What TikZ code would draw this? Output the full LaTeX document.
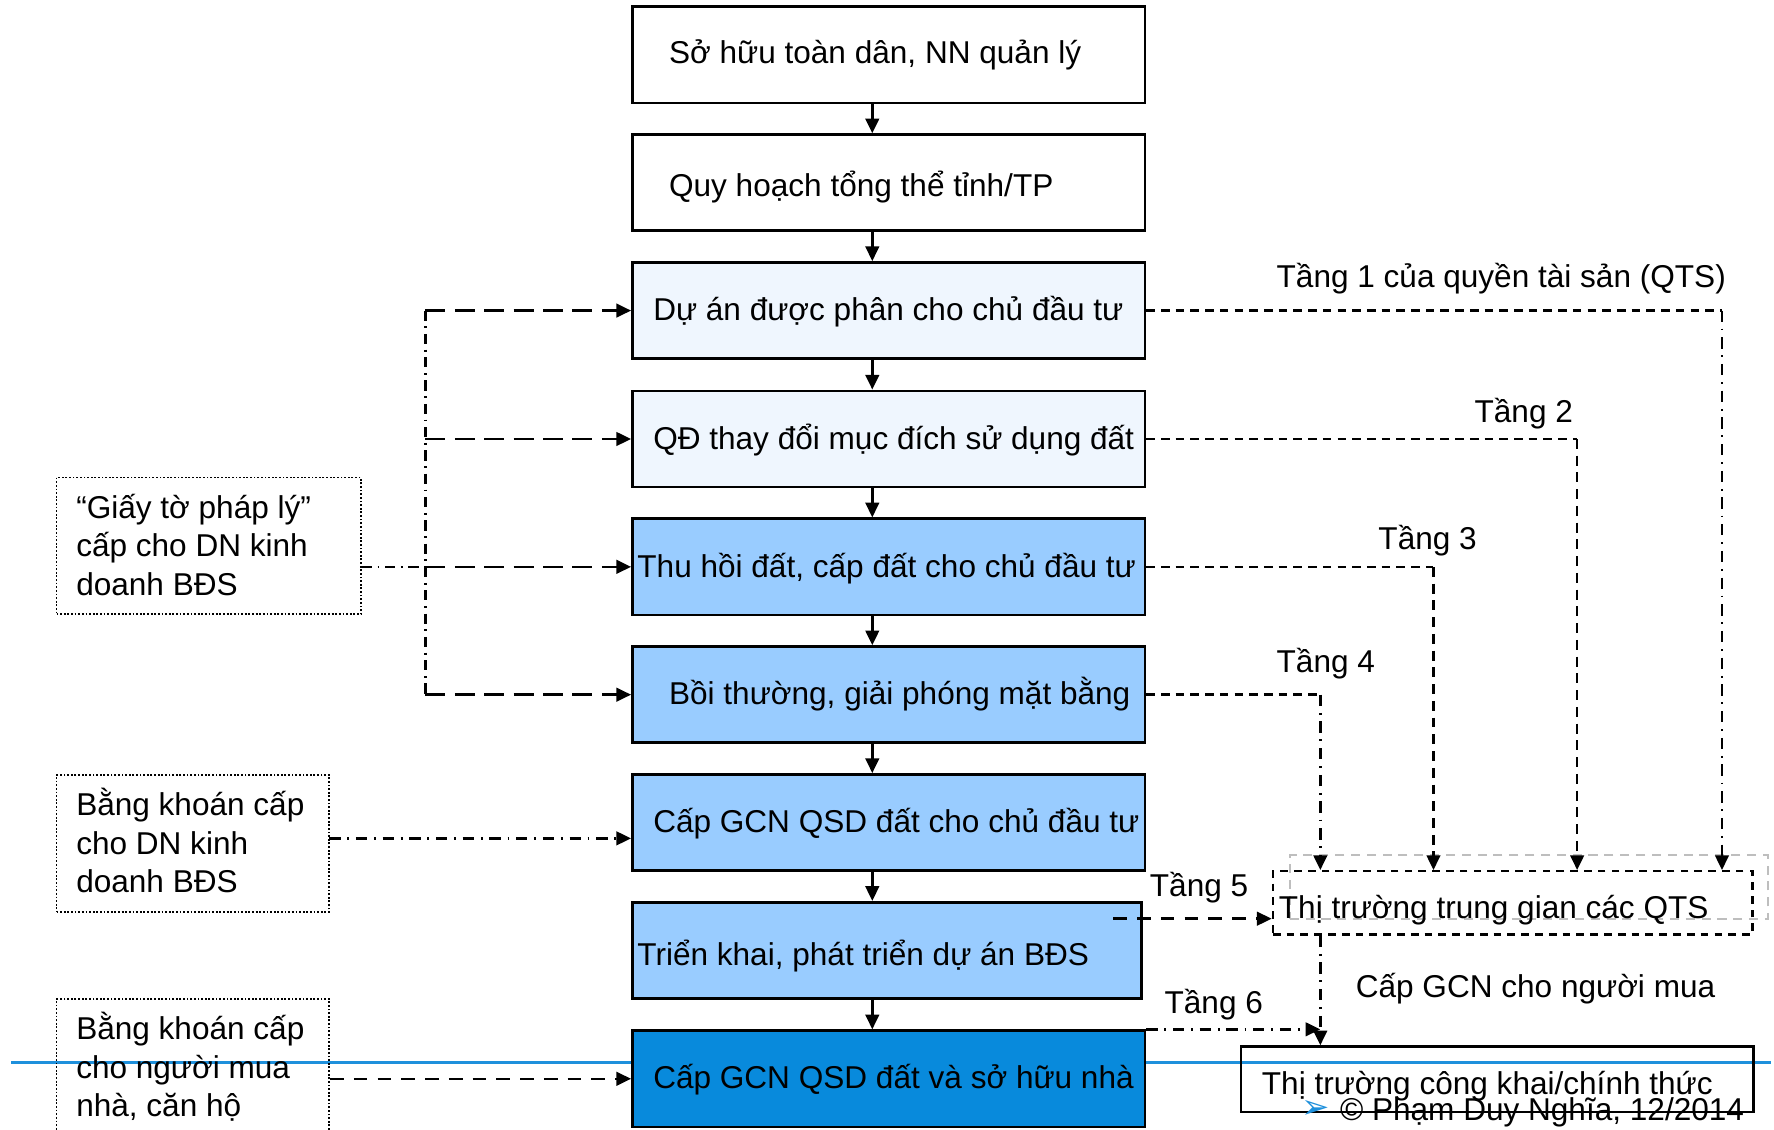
\documentclass[tikz,border=0pt]{standalone}
\usepackage{fontspec}
\setmainfont{Liberation Sans}
\newfontfamily\symfont{DejaVu Sans}
\usetikzlibrary{arrows.meta}
\definecolor{palebox}{RGB}{239,246,254}
\definecolor{midbox}{RGB}{153,204,255}
\definecolor{darkbox}{RGB}{8,138,220}
\definecolor{bluecol}{RGB}{30,144,220}
\definecolor{grayline}{RGB}{190,190,190}
\begin{document}
\begin{tikzpicture}[x=0.5pt,y=-0.5pt,
  every node/.style={font=\fontsize{13.95}{17}\selectfont, inner sep=0pt},
  box/.style={draw, line width=1.2pt, minimum width=226.5pt, minimum height=42.5pt, inner sep=0pt},
  dotbox/.style={draw, line width=0.8pt, dash pattern=on 0.8pt off 0.8pt},
  txt/.style={anchor=base west},
  tip/.style={-{Triangle[length=6.5pt,width=6pt]}},
  conn/.style={line width=1.1pt},
  longdash/.style={conn, dash pattern=on 8.8pt off 4.2pt},
  dashdotl/.style={conn, dash pattern=on 4.5pt off 2.5pt on 0.8pt off 2.5pt},
  dashdotr/.style={conn, dash pattern=on 5pt off 3pt on 0.8pt off 3pt},
  shortdash/.style={conn, dash pattern=on 3.8pt off 2.7pt},
  vdash/.style={conn, dash pattern=on 4.4pt off 3pt},
  meddash/.style={conn, dash pattern=on 6pt off 4.5pt}
]
\clip (0,0) rectangle (1568,998);
\fill[white] (0,0) rectangle (1568,998);

% blue rule
\draw[bluecol, line width=1.2pt] (10,939) -- (1565,939);

% main column
\node[box] (b1) at (785.5,48.5) {};
\node[box] (b2) at (785.5,161.5) {};
\node[box, fill=palebox] (b3) at (785.5,274.5) {};
\node[box, fill=palebox] (b4) at (785.5,388) {};
\node[box, fill=midbox] (b5) at (785.5,501) {};
\node[box, fill=midbox] (b6) at (785.5,614) {};
\node[box, fill=midbox] (b7) at (785.5,727) {};
\node[box, fill=midbox, minimum width=225pt] (b8) at (784,840) {};
\node[box, fill=darkbox] (b9) at (785.5,953.5) {};

\node[txt] (t1) at (591,56) {Sở hữu toàn dân, NN quản lý};
\node[txt] (t2) at (591,174) {Quy hoạch tổng thể tỉnh/TP};
\node[txt] (t3) at (577,283.5) {Dự án được phân cho chủ đầu tư};
\node[txt] (t4) at (577,397) {QĐ thay đổi mục đích sử dụng đất};
\node[txt] (t5) at (563,510) {Thu hồi đất, cấp đất cho chủ đầu tư};
\node[txt] (t6) at (591,623) {Bồi thường, giải phóng mặt bằng};
\node[txt] (t7) at (577,736) {Cấp GCN QSD đất cho chủ đầu tư};
\node[txt] (t8) at (563,853) {Triển khai, phát triển dự án BĐS};
\node[txt] (t9) at (577,962) {Cấp GCN QSD đất và sở hữu nhà};

\coordinate (ax) at (771,0);
\foreach \a/\b in {b1/b2,b2/b3,b3/b4,b4/b5,b5/b6,b6/b7,b7/b8,b8/b9}
  \draw[conn,tip] (\a.south -| ax) -- (\b.north -| ax);

% left side
\node[dotbox, minimum width=134.5pt, minimum height=60.5pt] (g1) at (184.5,482.5) {};
\node[txt] (g1a) at (67,458) {“Giấy tờ pháp lý”};
\node[txt] (g1b) at (67,492) {cấp cho DN kinh};
\node[txt] (g1c) at (67,526) {doanh BĐS};

\node[dotbox, minimum width=120.5pt, minimum height=60.5pt] (k1) at (170.5,745.5) {};
\node[txt] (k1a) at (67,721) {Bằng khoán cấp};
\node[txt] (k1b) at (67,755) {cho DN kinh};
\node[txt] (k1c) at (67,789) {doanh BĐS};

\node[dotbox, minimum width=120.5pt, minimum height=60.5pt] (k2) at (170.5,943.5) {};
\node[txt] (k2a) at (67,919) {Bằng khoán cấp};
\node[txt] (k2b) at (67,953) {cho người mua};
\node[txt] (k2c) at (67,987) {nhà, căn hộ};

\coordinate (lv) at (376,0);
\draw[dashdotl] (lv |- b3.west) -- (lv |- b6.west);
\foreach \b in {b3,b4,b5,b6}
  \draw[longdash,tip] (lv |- \b.west) -- (\b.west);
\draw[dashdotl] (g1.east |- b5.west) -- (lv |- b5.west);

\coordinate (ka) at (291,741);
\draw[dashdotr,tip] (ka) -- (ka -| b7.west);
\draw[meddash,tip] (k2.east |- b9.west) -- (b9.west);

% right side
\node[draw=grayline, line width=1pt, dash pattern=on 4pt off 3pt, minimum width=211.5pt, minimum height=28pt] (qtsshadow) at (1351.5,784) {};
\node[draw, line width=1pt, dash pattern=on 3.4pt off 2.7pt, minimum width=212pt, minimum height=28pt] (qts) at (1337,798) {};
\node[txt] (qtst) at (1130,812) {Thị trường trung gian các QTS};

\node[draw, line width=1.1pt, minimum width=226.5pt, minimum height=29pt] (pub) at (1323.5,954) {};
\node[txt] (pubt) at (1115,967) {Thị trường công khai/chính thức};

\node[txt] (l1) at (1128,254) {Tầng 1 của quyền tài sản (QTS)};
\node[txt] (l2) at (1303,373) {Tầng 2};
\node[txt] (l3) at (1218,486) {Tầng 3};
\node[txt] (l4) at (1128,594) {Tầng 4};
\node[txt] (l5) at (1016,792) {Tầng 5};
\node[txt] (l6) at (1029,896) {Tầng 6};
\node[txt] (lgcn) at (1198,882) {Cấp GCN cho người mua};

\coordinate (r1) at (1522,0);
\coordinate (r2) at (1394,0);
\coordinate (r3) at (1267,0);
\coordinate (r4) at (1167,0);

\draw[shortdash] (b3.east) -- (b3.east -| r1);
\draw[dashdotr,tip] (b3.east -| r1) -- (r1 |- qts.north);
\draw[shortdash] (b4.east) -- (b4.east -| r2);
\draw[vdash,tip] (b4.east -| r2) -- (r2 |- qts.north);
\draw[shortdash] (b5.east) -- (b5.east -| r3);
\draw[vdash,tip] (b5.east -| r3) -- (r3 |- qts.north);
\draw[shortdash] (b6.east) -- (b6.east -| r4);
\draw[dashdotr,tip] (b6.east -| r4) -- (r4 |- qts.north);

\coordinate (t5s) at (984,812);
\draw[meddash,tip] (t5s) -- (t5s -| qts.west);

\draw[dashdotr,tip] (r4 |- qts.south) -- (r4 |- pub.north);
\draw[dashdotr,tip] (b9.north east) -- (b9.north east -| r4);

\node[txt, text=bluecol, font=\symfont\fontsize{15}{17}\selectfont] (cparrow) at (1150,989) {➢};
\node[txt] (copy) at (1184,990) {© Phạm Duy Nghĩa, 12/2014};
\end{tikzpicture}
\end{document}
